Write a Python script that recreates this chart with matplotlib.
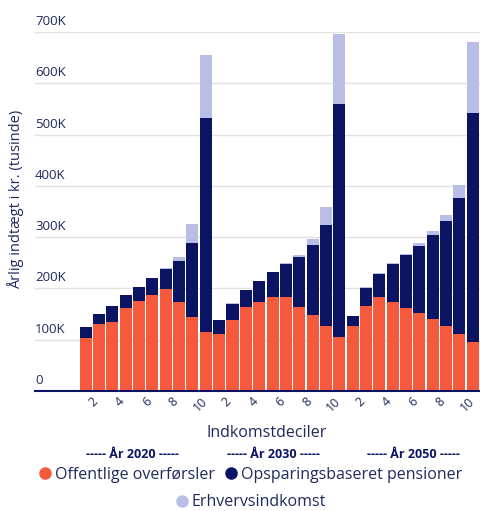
import numpy as np
import matplotlib
matplotlib.use("Agg")
import matplotlib.pyplot as plt
import matplotlib.transforms as mtransforms
from matplotlib.lines import Line2D

plt.rcParams["font.family"] = ["Open Sans", "DejaVu Sans"]

# Annual income per decile in thousand kr., three scenario years back to back
years = ["År 2020", "År 2030", "År 2050"]
deciles = list(range(1, 11))

offentlige = [103, 131, 135, 162, 175, 188, 199, 173, 144, 114,   # 2020
              112, 138, 163, 173, 183, 183, 163, 148, 127, 105,   # 2030
              127, 166, 183, 173, 162, 152, 141, 127, 112, 96]    # 2050
pension = [22, 20, 31, 26, 28, 33, 39, 80, 144, 418,
           26, 32, 34, 41, 49, 64, 98, 137, 197, 454,
           20, 35, 46, 74, 103, 131, 163, 205, 265, 446]
erhverv = [0, 0, 0, 0, 0, 0, 2, 8, 38, 124,
           0, 1, 0, 0, 1, 2, 4, 11, 34, 138,
           0, 2, 1, 2, 3, 6, 8, 12, 25, 139]

yticks = [0, 100, 200, 300, 400, 500, 600, 700]

C_OFF = "#f55a3c"
C_PEN = "#0b1462"
C_ERH = "#babde6"
C_TXT = "#1f2a5c"

off = np.array(offentlige)
pen = np.array(pension)
erh = np.array(erhverv)
x = np.arange(len(off))

fig = plt.figure(figsize=(4.8, 5.11), dpi=100)
ax = fig.add_axes([0.073, 0.235, 0.927, 0.702])

ax.bar(x, off, width=0.9, color=C_OFF, zorder=3)
ax.bar(x, pen, width=0.9, bottom=off, color=C_PEN, zorder=3)
ax.bar(x, erh, width=0.9, bottom=off + pen, color=C_ERH, zorder=3)

ax.set_xlim(-3.8, 29.55)
ax.set_ylim(0, 700)

# gridlines with labels sitting on top of them
ax.set_yticks(yticks)
ax.set_yticklabels([])
ax.tick_params(axis="y", length=0)
ax.grid(axis="y", color="#e2e2e2", lw=1, zorder=0)
for v in yticks:
    lab = "0" if v == 0 else f"{v}K"
    ax.annotate(lab, xy=(0, v), xycoords=ax.get_yaxis_transform(),
                xytext=(0, 3), textcoords="offset points",
                ha="left", va="bottom", fontsize=9.5, color=C_TXT)

# even deciles as tick labels within each year block
tick_pos = [g * 10 + d - 1 for g in range(3) for d in deciles if d % 2 == 0]
tick_lab = [str(d) for g in range(3) for d in deciles if d % 2 == 0]
ax.set_xticks(tick_pos)
ax.set_xticklabels(tick_lab, rotation=45, ha="center", fontsize=9, color=C_TXT)
ax.tick_params(axis="x", length=0, pad=3)
shift = mtransforms.ScaledTranslation(-4 / 72, 0, fig.dpi_scale_trans)
for t in ax.get_xticklabels():
    t.set_transform(t.get_transform() + shift)

for s in ["top", "right", "left"]:
    ax.spines[s].set_visible(False)
ax.spines["bottom"].set_color(C_PEN)
ax.spines["bottom"].set_linewidth(1.5)
ax.spines["bottom"].set_zorder(4)

ax.set_xlabel("Indkomstdeciler", fontsize=11.5, color=C_TXT)
ax.xaxis.set_label_coords(0.52, -0.095)
fig.text(0.032, 0.61, "Årlig indtægt i kr. (tusinde)", rotation=90,
         ha="center", va="center", fontsize=10.5, color=C_TXT)

for i, yr in enumerate(years):
    fig.text([0.275, 0.569, 0.862][i], 0.110, f"----- {yr} -----",
             ha="center", va="center", fontsize=9, fontweight="bold", color=C_PEN)

h1 = [Line2D([], [], marker="o", ls="", ms=8, color=C_OFF),
      Line2D([], [], marker="o", ls="", ms=8, color=C_PEN)]
fig.legend(h1, ["Offentlige overførsler", "Opsparingsbaseret pensioner"],
           loc="center", bbox_to_anchor=(0.52, 0.071), ncol=2, frameon=False,
           fontsize=11.5, handletextpad=0.1, columnspacing=0.5,
           handlelength=1.0, labelcolor=C_TXT)
h2 = [Line2D([], [], marker="o", ls="", ms=8, color=C_ERH)]
fig.legend(h2, ["Erhvervsindkomst"], loc="center", bbox_to_anchor=(0.52, 0.017),
           frameon=False, fontsize=11.5, handletextpad=0.1, handlelength=1.0,
           labelcolor=C_TXT)

fig.savefig("out.png", dpi=100)
